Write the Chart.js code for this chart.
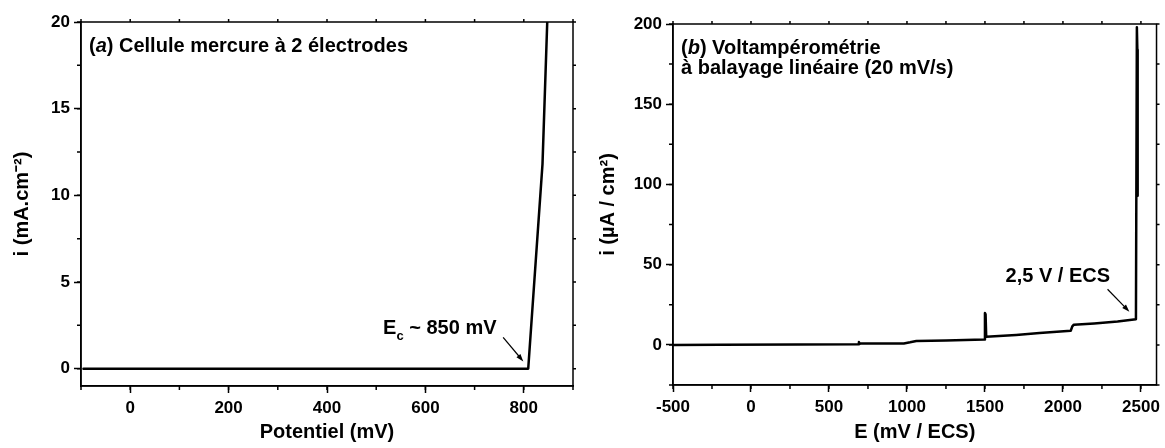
<!DOCTYPE html>
<html lang="fr">
  <head>
    <meta charset="UTF-8" />
    <title>Cellule mercure et voltampérométrie</title>
    <script src="https://cdn.jsdelivr.net/npm/chart.js@4.4.1/dist/chart.umd.min.js"></script>
    <style>
      body { margin: 0; background: #fff; }
      #wrap { position: relative; width: 1165px; height: 448px; }
      #wrap canvas { position: absolute; top: 0; }
    </style>
  </head>
  <body>
    <div id="wrap">
      <canvas id="chartA" width="590" height="448" style="left: 0"></canvas>
      <canvas id="chartB" width="575" height="448" style="left: 590px"></canvas>
    </div>

    <script>
      // (a) cellule mercure à 2 électrodes
      const potentielA = [-95, 809, 838, 848];
      const courantA = [0, 0, 11.8, 20.3];
      const xTicksA = [0, 200, 400, 600, 800];
      const yTicksA = [0, 5, 10, 15, 20];

      // (b) voltampérométrie à balayage linéaire
      const potentielB = [-500, -200, 300, 688, 692, 696, 700, 980, 1020, 1060, 1250, 1495, 1500, 1504, 1508,
        1700, 1850, 2050, 2060, 2070, 2200, 2350, 2468, 2474, 2477, 2479];
      const courantB = [0, 0.1, 0.2, 0.4, 1.8, 0.5, 0.8, 0.9, 1.6, 2.4, 2.8, 3.4, 19.8, 19, 5,
        6.2, 7.4, 8.8, 11.5, 12.6, 13.4, 14.6, 16, 198, 184, 93];
      const xTicksB = [-500, 0, 500, 1000, 1500, 2000, 2500];
      const yTicksB = [0, 50, 100, 150, 200];

      const FONT = '"Liberation Sans", Arial, Helvetica, sans-serif';
      const tickFont = { family: FONT, size: 17, weight: "bold" };
      const titleFont = { family: FONT, size: 20, weight: "bold" };

      function drawRuns(ctx, runs, x, y, size) {
        for (const r of runs) {
          const fs = r.sub ? Math.round(size * 0.65) : size;
          ctx.font = (r.italic ? "italic " : "") + "bold " + fs + "px " + FONT;
          ctx.fillText(r.t, x, r.sub ? y + 6 : y);
          x += ctx.measureText(r.t).width;
        }
      }

      function drawArrow(ctx, x1, y1, x2, y2) {
        const a = Math.atan2(y2 - y1, x2 - x1);
        const head = 8;
        ctx.lineWidth = 1.2;
        ctx.beginPath();
        ctx.moveTo(x1, y1);
        ctx.lineTo(x2 - Math.cos(a) * head * 0.8, y2 - Math.sin(a) * head * 0.8);
        ctx.stroke();
        ctx.beginPath();
        ctx.moveTo(x2, y2);
        ctx.lineTo(x2 - head * Math.cos(a - 0.33), y2 - head * Math.sin(a - 0.33));
        ctx.lineTo(x2 - head * Math.cos(a + 0.33), y2 - head * Math.sin(a + 0.33));
        ctx.closePath();
        ctx.fill();
      }

      // box, minor ticks, mirrored ticks, panel title and annotation
      const decor = {
        id: "decor",
        afterDraw(chart, args, opts) {
          const ctx = chart.ctx;
          const area = chart.chartArea;
          const xs = chart.scales.x;
          const ys = chart.scales.y;
          ctx.save();
          ctx.strokeStyle = "#000";
          ctx.fillStyle = "#000";
          ctx.lineWidth = 1.5;
          ctx.strokeRect(area.left, area.top, area.right - area.left, area.bottom - area.top);

          ctx.beginPath();
          for (let v = Math.ceil(xs.min / opts.minorX) * opts.minorX; v <= xs.max + 1e-9; v += opts.minorX) {
            const px = xs.getPixelForValue(v);
            ctx.moveTo(px, area.bottom);
            ctx.lineTo(px, area.bottom + 4);
            ctx.moveTo(px, area.top);
            ctx.lineTo(px, area.top - 3);
          }
          for (let v = Math.ceil(ys.min / opts.minorY) * opts.minorY; v <= ys.max + 1e-9; v += opts.minorY) {
            const py = ys.getPixelForValue(v);
            ctx.moveTo(area.left, py);
            ctx.lineTo(area.left - 4, py);
            ctx.moveTo(area.right, py);
            ctx.lineTo(area.right + 3, py);
          }
          ctx.stroke();

          ctx.textBaseline = "alphabetic";
          ctx.textAlign = "left";
          opts.title.forEach((line, i) => {
            drawRuns(ctx, line, area.left + 8, area.top + 30 + i * 20, 20);
          });

          const n = opts.note;
          drawRuns(ctx, n.text, xs.getPixelForValue(n.at[0]), ys.getPixelForValue(n.at[1]), 20);
          drawArrow(
            ctx,
            xs.getPixelForValue(n.from[0]),
            ys.getPixelForValue(n.from[1]),
            xs.getPixelForValue(n.to[0]),
            ys.getPixelForValue(n.to[1])
          );
          ctx.restore();
        },
      };

      function makeScale(min, max, tickValues, fit, title, titlePad, isX) {
        return {
          type: "linear",
          min: min,
          max: max,
          afterBuildTicks: (s) => {
            s.ticks = tickValues.map((v) => ({ value: v }));
          },
          afterFit: (s) => {
            if (isX) s.height = fit;
            else s.width = fit;
          },
          border: { display: true, color: "#000", width: 1.5 },
          grid: {
            display: true,
            drawOnChartArea: false,
            drawTicks: true,
            tickLength: 7,
            tickColor: "#000",
            tickWidth: 1.5,
          },
          ticks: {
            color: "#000",
            font: tickFont,
            padding: isX ? 5 : 4,
            maxRotation: 0,
            callback: (v) => String(v),
          },
          title: {
            display: true,
            text: title,
            color: "#000",
            font: titleFont,
            padding: titlePad,
          },
        };
      }

      function makeChart(id, xs, ys, scales, padding, decorOpts) {
        return new Chart(document.getElementById(id), {
          type: "line",
          data: {
            datasets: [
              {
                data: xs.map((x, i) => ({ x: x, y: ys[i] })),
                borderColor: "#000",
                borderWidth: 2.5,
                borderJoinStyle: "round",
                borderCapStyle: "round",
                pointRadius: 0,
                tension: 0,
                fill: false,
              },
            ],
          },
          options: {
            responsive: false,
            animation: false,
            layout: { padding: padding, autoPadding: false },
            scales: scales,
            plugins: {
              legend: { display: false },
              tooltip: { enabled: false },
              decor: decorOpts,
            },
          },
          plugins: [decor],
        });
      }

      makeChart(
        "chartA",
        potentielA,
        courantA,
        {
          x: makeScale(-100, 900, xTicksA, 62, "Potentiel (mV)", { top: 0, bottom: 4 }, true),
          y: makeScale(-1, 20, yTicksA, 81, "i (mA.cm⁻²)", { top: 10, bottom: 0 }, false),
        },
        { top: 22, right: 17, left: 0, bottom: 0 },
        {
          minorX: 100,
          minorY: 2.5,
          title: [[{ t: "(" }, { t: "a", italic: true }, { t: ") Cellule mercure à 2 électrodes" }]],
          note: {
            text: [{ t: "E" }, { t: "c", sub: true }, { t: " ~ 850 mV" }],
            at: [514, 2.0],
            from: [758, 1.8],
            to: [799, 0.42],
          },
        }
      );

      makeChart(
        "chartB",
        potentielB,
        courantB,
        {
          x: makeScale(-500, 2600, xTicksB, 63, "E (mV / ECS)", { top: 0, bottom: 4 }, true),
          y: makeScale(-25, 200, yTicksB, 83, "i (µA / cm²)", { top: 6, bottom: 0 }, false),
        },
        { top: 24, right: 5, left: 0, bottom: 0 },
        {
          minorX: 250,
          minorY: 25,
          title: [
            [{ t: "(" }, { t: "b", italic: true }, { t: ") Voltampérométrie" }],
            [{ t: "à balayage linéaire (20 mV/s)" }],
          ],
          note: {
            text: [{ t: "2,5 V / ECS" }],
            at: [1632, 39.4],
            from: [2286, 34.7],
            to: [2426, 20.7],
          },
        }
      );
    </script>
  </body>
</html>
